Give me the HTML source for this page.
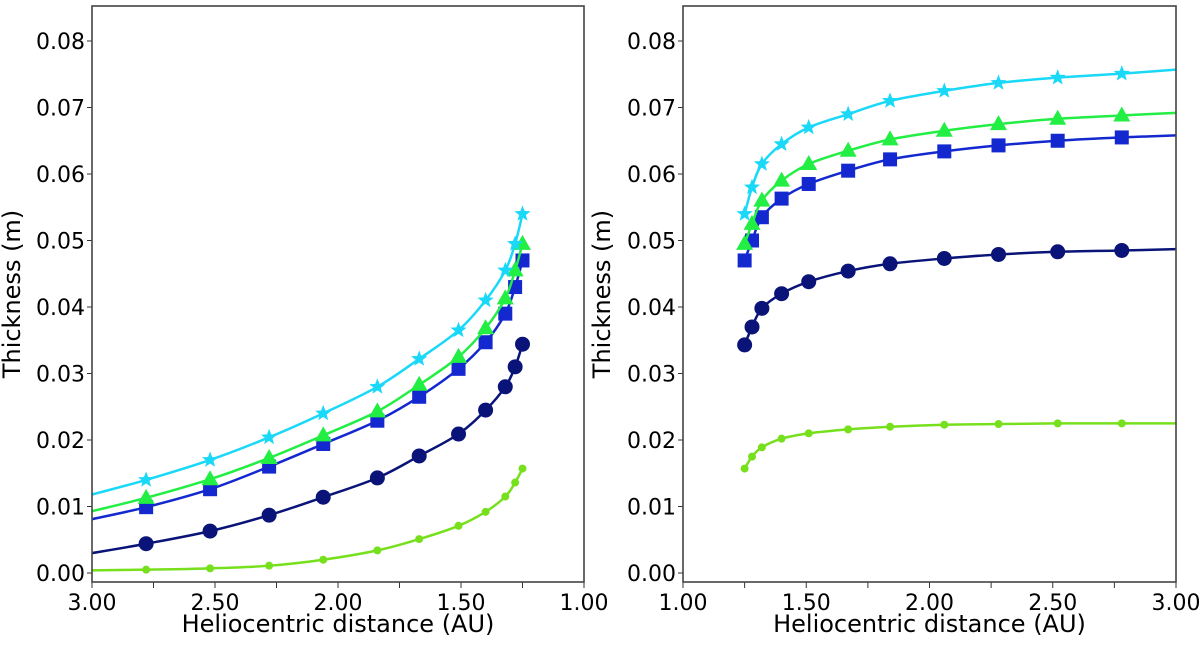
<!DOCTYPE html>
<html><head><meta charset="utf-8"><style>
body{margin:0;background:#fff;}
svg text{font-family:"DejaVu Sans","Liberation Sans",sans-serif;fill:#000;}
</style></head><body>
<svg id="chart" width="1200" height="640" xmlns="http://www.w3.org/2000/svg"></svg>
<script>
const distances = [1.25, 1.28, 1.32, 1.40, 1.51, 1.67, 1.84, 2.06, 2.28, 2.52, 2.78, 3.00];
const leftStar   = [0.0540,0.0495,0.0455,0.0410,0.0365,0.0322,0.0280,0.0240,0.0204,0.0170,0.0140,0.0118];
const leftTri    = [0.0495,0.0455,0.0413,0.0368,0.0325,0.0283,0.0243,0.0207,0.0173,0.0141,0.0113,0.0093];
const leftSquare = [0.0470,0.0430,0.0390,0.0347,0.0307,0.0265,0.0229,0.0194,0.0160,0.0126,0.0099,0.0081];
const leftCircle = [0.0344,0.0310,0.0280,0.0245,0.0209,0.0176,0.0143,0.0114,0.0087,0.0063,0.0044,0.0030];
const leftSmall  = [0.0157,0.0136,0.0115,0.0092,0.0071,0.0051,0.0034,0.0020,0.0011,0.0007,0.0005,0.0004];
const rightStar   = [0.0540,0.0580,0.0615,0.0645,0.0670,0.0690,0.0710,0.0725,0.0737,0.0745,0.0751,0.0757];
const rightTri    = [0.0495,0.0525,0.0560,0.0590,0.0615,0.0635,0.0652,0.0665,0.0675,0.0683,0.0688,0.0692];
const rightSquare = [0.0470,0.0500,0.0535,0.0563,0.0585,0.0605,0.0622,0.0634,0.0643,0.0650,0.0655,0.0658];
const rightCircle = [0.0343,0.0370,0.0398,0.0420,0.0438,0.0454,0.0465,0.0473,0.0479,0.0483,0.0485,0.0487];
const rightSmall  = [0.0157,0.0175,0.0189,0.0202,0.0210,0.0216,0.0220,0.0223,0.0224,0.0225,0.0225,0.0225];
const yTicks = [0,0.01,0.02,0.03,0.04,0.05,0.06,0.07,0.08];
const xTicks = [1.0,1.5,2.0,2.5,3.0];

const NS="http://www.w3.org/2000/svg";
const svg=document.getElementById('chart');
function mk(tag,attrs,parent){const e=document.createElementNS(NS,tag);for(const k in attrs)e.setAttribute(k,attrs[k]);(parent||svg).appendChild(e);return e;}

const series=[
 {name:'small-circle',color:'#77e01c',marker:'small',lw:2.5},
 {name:'large-circle',color:'#0a1478',marker:'circle',lw:2.5},
 {name:'square',color:'#1428d0',marker:'square',lw:2.5},
 {name:'triangle',color:'#22ee44',marker:'tri',lw:2.5},
 {name:'star',color:'#1ad8f8',marker:'star',lw:2.5}
];
const panels=[
 {id:'left',x0:92,x1:584,rev:true,data:[leftSmall,leftCircle,leftSquare,leftTri,leftStar],ylab:85,ytitle:20},
 {id:'right',x0:683,x1:1176,rev:false,data:[rightSmall,rightCircle,rightSquare,rightTri,rightStar],ylab:676,ytitle:610}
];
const plotTop=6,plotBottom=582;
function Y(v){return 573-v*6650;}

function smoothPath(pts){
  let d='M'+pts[0][0]+','+pts[0][1];
  for(let i=0;i<pts.length-1;i++){
    const p0=pts[Math.max(i-1,0)],p1=pts[i],p2=pts[i+1],p3=pts[Math.min(i+2,pts.length-1)];
    const c1=[p1[0]+(p2[0]-p0[0])/6,p1[1]+(p2[1]-p0[1])/6];
    const c2=[p2[0]-(p3[0]-p1[0])/6,p2[1]-(p3[1]-p1[1])/6];
    d+=' C'+c1[0]+','+c1[1]+' '+c2[0]+','+c2[1]+' '+p2[0]+','+p2[1];
  }
  return d;
}
function drawMarker(g,type,x,y,color){
  let e;
  if(type==='small'){e=mk('circle',{cx:x,cy:y,r:4,fill:color},g);}
  else if(type==='circle'){e=mk('circle',{cx:x,cy:y,r:7.5,fill:color},g);}
  else if(type==='square'){e=mk('rect',{x:x-7,y:y-7,width:14,height:14,fill:color},g);}
  else if(type==='tri'){e=mk('polygon',{points:`${x},${y-9} ${x-8.5},${y+6} ${x+8.5},${y+6}`,fill:color},g);}
  else{let p=[];for(let k=0;k<10;k++){const r=k%2?3.6:8.5;const a=-Math.PI/2+k*Math.PI/5;p.push((x+r*Math.cos(a)).toFixed(1)+','+(y+r*Math.sin(a)).toFixed(1));}
    e=mk('polygon',{points:p.join(' '),fill:color},g);}
  
  
}

panels.forEach(P=>{
  const X=v=>P.rev?P.x0+(3-v)/2*(P.x1-P.x0):P.x0+(v-1)/2*(P.x1-P.x0);
  const g=mk('g',{});
  
  
  const clipId='clip-'+P.id;
  const cp=mk('clipPath',{id:clipId},g);mk('rect',{x:P.x0,y:plotTop,width:P.x1-P.x0,height:plotBottom-plotTop},cp);
  yTicks.forEach(t=>{
    const y=Y(t);
    mk('line',{x1:P.x0-5,x2:P.x0,y1:y,y2:y,stroke:'#333','stroke-width':1},g);
    const tx=mk('text',{x:P.ylab,y:y+8,'text-anchor':'end','font-size':22},g);
    tx.textContent=t.toFixed(2);
    
    
  });
  for(let v=1;v<=3.0001;v+=0.25){
    const x=X(v);
    mk('line',{x1:x,x2:x,y1:plotBottom,y2:plotBottom+6,stroke:'#333','stroke-width':1},g);
  }
  xTicks.forEach(t=>{
    const tx=mk('text',{x:X(t),y:610,'text-anchor':'middle','font-size':22},g);
    tx.textContent=t.toFixed(2);
    
    
  });
  const xt=mk('text',{x:(P.x0+P.x1)/2,y:632,'text-anchor':'middle','font-size':24},g);
  xt.textContent='Heliocentric distance (AU)';
  
  
  const yt=mk('text',{x:P.ytitle,y:294,'text-anchor':'middle','font-size':24,transform:`rotate(-90 ${P.ytitle} 294)`},g);
  yt.textContent='Thickness (m)';
  
  
  const sg=mk('g',{'clip-path':`url(#${clipId})`},g);
  P.data.forEach((vals,si)=>{
    const s=series[si];
    const pts=distances.map((d,i)=>[X(d),Y(vals[i])]);
    const path=mk('path',{d:smoothPath(pts),fill:'none',stroke:s.color,'stroke-width':s.lw},sg);
    
    
    for(let i=0;i<distances.length-1;i++) drawMarker(sg,s.marker,pts[i][0],pts[i][1],s.color);
  });
  const frame=mk('rect',{x:P.x0,y:plotTop,width:P.x1-P.x0,height:plotBottom-plotTop,fill:'none',stroke:'#444','stroke-width':1.6},g);
  
  
});
</script>
</body></html>
